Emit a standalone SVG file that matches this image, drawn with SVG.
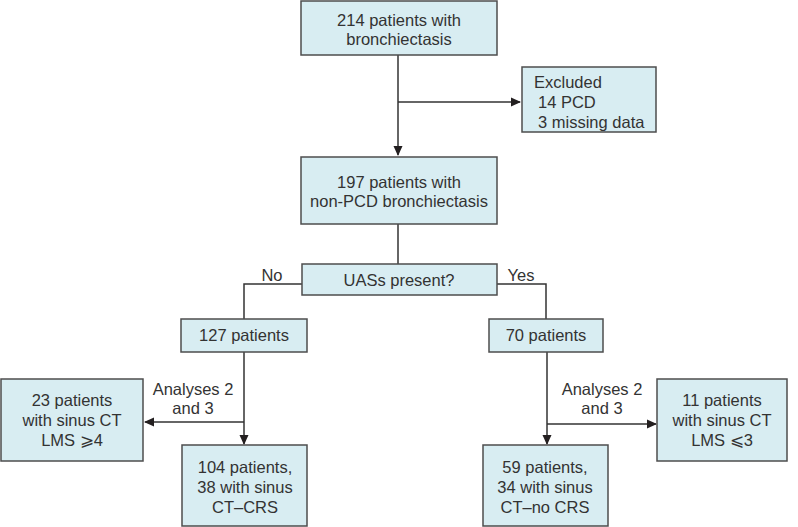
<svg xmlns="http://www.w3.org/2000/svg" width="798" height="527" viewBox="0 0 798 527">
<defs>
<marker id="ah" markerWidth="10" markerHeight="10" refX="9" refY="5" orient="auto" markerUnits="userSpaceOnUse">
<path d="M0,0.5 L10,5 L0,9.5 Z" fill="#231f20"/>
</marker>
</defs>
<style>
.box{fill:#d8edf2;stroke:#4d4d4d;stroke-width:1.5}
.t{font-family:"Liberation Sans",Arial,sans-serif;font-size:16.5px;fill:#333;text-anchor:middle}
.l{text-anchor:start}
.c{fill:none;stroke:#333;stroke-width:1.5}
</style>
<rect width="798" height="527" fill="#fff"/>
<g id="connectors">
<line class="c" x1="398" y1="55" x2="398" y2="155" marker-end="url(#ah)"/>
<line class="c" x1="398" y1="102" x2="520" y2="102" marker-end="url(#ah)"/>
<line class="c" x1="398" y1="224" x2="398" y2="264"/>
<polyline class="c" points="302,284 244,284 244,319"/>
<polyline class="c" points="497,284 546,284 546,319"/>
<line class="c" x1="244" y1="352" x2="244" y2="444" marker-end="url(#ah)"/>
<line class="c" x1="244" y1="422" x2="145" y2="422" marker-end="url(#ah)"/>
<line class="c" x1="547" y1="352" x2="547" y2="444" marker-end="url(#ah)"/>
<line class="c" x1="547" y1="424" x2="656" y2="424" marker-end="url(#ah)"/>
<text class="t" x="272" y="281">No</text>
<text class="t" x="521" y="281">Yes</text>
<text class="t" x="193" y="395">Analyses 2</text>
<text class="t" x="193" y="414">and 3</text>
<text class="t" x="602" y="395">Analyses 2</text>
<text class="t" x="602" y="414">and 3</text>
</g>
<g id="n214">
<rect class="box" x="301" y="1" width="196" height="54"/>
<text class="t" x="399" y="26">214 patients with</text>
<text class="t" x="399" y="45">bronchiectasis</text>
</g>
<g id="excluded">
<rect class="box" x="522" y="67" width="134" height="65"/>
<text class="t l" x="534" y="88">Excluded</text>
<text class="t l" x="538" y="108">14 PCD</text>
<text class="t l" x="538" y="128">3 missing data</text>
</g>
<g id="n197">
<rect class="box" x="301" y="157" width="196" height="67"/>
<text class="t" x="399" y="188">197 patients with</text>
<text class="t" x="399" y="207">non-PCD bronchiectasis</text>
</g>
<g id="uas">
<rect class="box" x="302" y="264" width="195" height="31"/>
<text class="t" x="399" y="286">UASs present?</text>
</g>
<g id="n127">
<rect class="box" x="181" y="319" width="126" height="33"/>
<text class="t" x="244" y="341">127 patients</text>
</g>
<g id="n70">
<rect class="box" x="489" y="319" width="114" height="33"/>
<text class="t" x="546" y="341">70 patients</text>
</g>
<g id="n23">
<rect class="box" x="1" y="379" width="142" height="82"/>
<text class="t" x="72" y="406">23 patients</text>
<text class="t" x="72" y="426">with sinus CT</text>
<text class="t" x="72" y="446">LMS ⩾4</text>
</g>
<g id="n104">
<rect class="box" x="182" y="445" width="125" height="81"/>
<text class="t" x="245" y="473">104 patients,</text>
<text class="t" x="245" y="493">38 with sinus</text>
<text class="t" x="245" y="513">CT–CRS</text>
</g>
<g id="n59">
<rect class="box" x="483" y="445" width="125" height="81"/>
<text class="t" x="545" y="473">59 patients,</text>
<text class="t" x="545" y="493">34 with sinus</text>
<text class="t" x="545" y="513">CT–no CRS</text>
</g>
<g id="n11">
<rect class="box" x="657" y="379" width="130" height="82"/>
<text class="t" x="722" y="406">11 patients</text>
<text class="t" x="722" y="426">with sinus CT</text>
<text class="t" x="722" y="446">LMS ⩽3</text>
</g>
</svg>
